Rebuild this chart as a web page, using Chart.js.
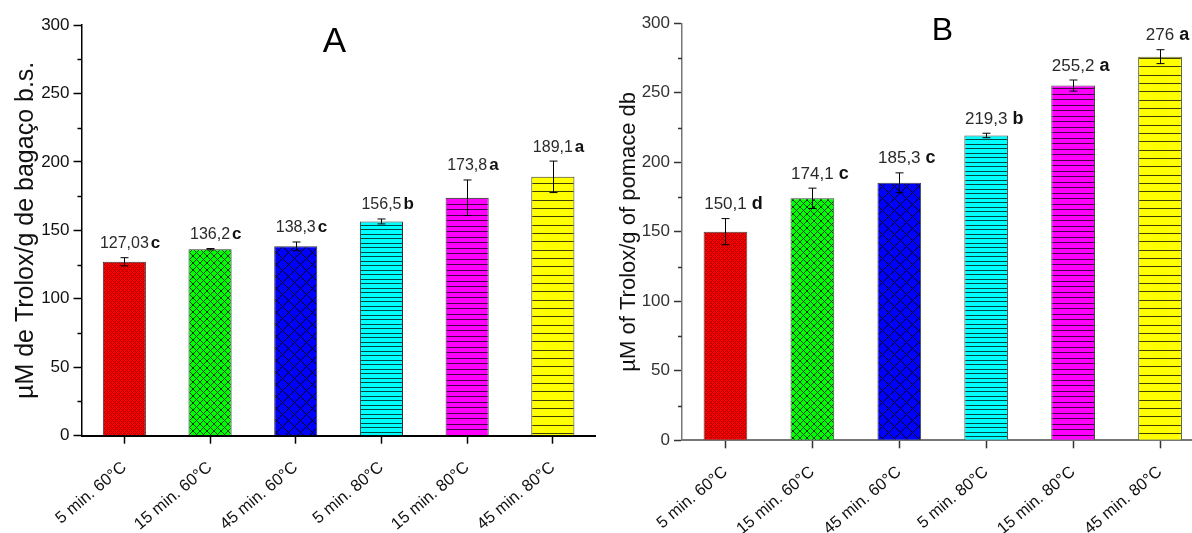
<!DOCTYPE html>
<html>
<head>
<meta charset="utf-8">
<script src="https://cdn.jsdelivr.net/npm/chart.js@4.4.1/dist/chart.umd.min.js"></script>
<style>
  html, body { margin: 0; padding: 0; background: #ffffff; overflow: hidden; width: 1192px; height: 533px; }
  #wrapA { position: absolute; left: 0; top: 0; width: 600px; height: 533px; }
  #wrapB { position: absolute; left: 600px; top: 0; width: 610px; height: 533px; }
</style>
</head>
<body>
<div id="wrapA"><canvas id="chartA" width="600" height="533"></canvas></div>
<div id="wrapB"><canvas id="chartB" width="610" height="533"></canvas></div>
<script>
// ---------- data ----------
const categories = ['5 min. 60°C', '15 min. 60°C', '45 min. 60°C', '5 min. 80°C', '15 min. 80°C', '45 min. 80°C'];

const valuesA  = [127.03, 136.2, 138.3, 156.5, 173.8, 189.1];
const errorsA  = [3.0, 0.5, 3.2, 1.8, 13.0, 11.5];
const lettersA = ['c', 'c', 'c', 'b', 'a', 'a'];

const valuesB  = [150.1, 174.1, 185.3, 219.3, 255.2, 276];
const errorsB  = [9.4, 7.3, 7.1, 1.6, 4.0, 5.0];
const lettersB = ['d', 'c', 'c', 'b', 'a', 'a'];

const yMin = 0;
const yMax = 300;
const yStep = 50;

const titleA = 'µM de Trolox/g de bagaço b.s.';
const titleB = 'µM of Trolox/g of pomace db';

// ---------- styling helpers ----------
const FONT = "'Liberation Sans', Arial, sans-serif";
Chart.defaults.font.family = FONT;
Chart.defaults.devicePixelRatio = 1;

function crossPattern(bg, period, line) {
  const c = document.createElement('canvas');
  c.width = period; c.height = period;
  const g = c.getContext('2d');
  g.fillStyle = bg; g.fillRect(0, 0, period, period);
  g.fillStyle = line;
  for (let y = 0; y < period; y++) {
    for (let x = 0; x < period; x++) {
      if ((x - y + period) % period === 0 || (x + y) % period === 0) g.fillRect(x, y, 1, 1);
    }
  }
  return g.createPattern(c, 'repeat');
}
function hLinePattern(bg, height, rows, line) {
  const c = document.createElement('canvas');
  c.width = 8; c.height = height;
  const g = c.getContext('2d');
  g.fillStyle = bg; g.fillRect(0, 0, 8, height);
  g.fillStyle = line;
  rows.forEach(r => g.fillRect(0, r, 8, 1));
  return g.createPattern(c, 'repeat');
}

function makeFills() {
  return [
    crossPattern('#ff0000', 4, '#a80000'),
    crossPattern('#00ff00', 7, '#0b3d0b'),
    crossPattern('#0000ff', 12, '#000014'),
    hLinePattern('#00ffff', 9, [0, 4], 'rgba(0,40,40,0.85)'),
    hLinePattern('#ff00ff', 11, [0, 6], 'rgba(40,0,40,0.85)'),
    hLinePattern('#ffff00', 25, [0, 8, 16], 'rgba(30,30,0,0.85)')
  ];
}

function fmt(v) { return String(v).replace('.', ','); }

// plugin: error bars, value labels, minor ticks, panel letter
const annotPlugin = {
  id: 'annot',
  afterDatasetsDraw(chart, args, o) {
    const ctx = chart.ctx;
    const ys = chart.scales.y;
    const meta = chart.getDatasetMeta(0);
    const vals = chart.data.datasets[0].data;
    ctx.save();
    ctx.strokeStyle = '#000';
    ctx.lineWidth = 1;
    meta.data.forEach((el, i) => {
      const v = vals[i], e = o.errors[i];
      const x = Math.round(el.x) + 0.5;
      const t = ys.getPixelForValue(v + e), b = ys.getPixelForValue(v - e);
      ctx.beginPath();
      ctx.moveTo(x, t); ctx.lineTo(x, b);
      ctx.moveTo(x - 4, t); ctx.lineTo(x + 4, t);
      ctx.moveTo(x - 4, b); ctx.lineTo(x + 4, b);
      ctx.stroke();
      const base = t - 9.5;
      const num = fmt(v);
      ctx.font = o.numFont;
      ctx.fillStyle = o.numColor;
      ctx.textBaseline = 'alphabetic';
      ctx.textAlign = 'left';
      const w = ctx.measureText(num).width;
      const x0 = el.x - w / 2;
      ctx.fillText(num, x0, base);
      ctx.font = o.letterFont;
      ctx.fillStyle = '#111';
      ctx.fillText(o.letters[i], x0 + w + o.gap, base);
    });
    ctx.restore();
  },
  afterDraw(chart, args, o) {
    const ctx = chart.ctx;
    const ys = chart.scales.y;
    const ax = chart.chartArea.left;
    ctx.save();
    ctx.strokeStyle = o.tickColor;
    ctx.lineWidth = 1.5;
    for (let v = yMin + yStep / 2; v < yMax; v += yStep) {
      const py = Math.round(ys.getPixelForValue(v)) + 0.5;
      ctx.beginPath(); ctx.moveTo(ax - 4, py); ctx.lineTo(ax, py); ctx.stroke();
    }
    ctx.font = o.panelFont;
    ctx.fillStyle = '#000';
    ctx.textAlign = 'center';
    ctx.textBaseline = 'middle';
    ctx.fillText(o.panel, o.panelX, o.panelY);
    ctx.restore();
  }
};

function buildChart(id, values, cfg) {
  const ctx = document.getElementById(id).getContext('2d');
  return new Chart(ctx, {
    type: 'bar',
    data: {
      labels: categories,
      datasets: [{
        data: values,
        backgroundColor: makeFills(),
        borderColor: cfg.barBorder,
        borderWidth: 1,
        borderSkipped: 'start',
        barPercentage: 0.503,
        categoryPercentage: 1
      }]
    },
    plugins: [annotPlugin],
    options: {
      responsive: false,
      animation: false,
      devicePixelRatio: 1,
      layout: { padding: { top: cfg.top, right: cfg.right, left: 0, bottom: 0 } },
      plugins: {
        legend: { display: false },
        tooltip: { enabled: false },
        annot: cfg.annot
      },
      scales: {
        x: {
          type: 'category',
          offset: true,
          grid: { display: true, drawOnChartArea: false, drawTicks: true, tickLength: 8, tickColor: cfg.tickColor, tickWidth: 1.5, offset: false },
          border: { display: true, color: cfg.axisColor, width: cfg.xAxisWidth },
          ticks: { autoSkip: false, maxRotation: 40, minRotation: 40, padding: cfg.xPad, color: '#111', font: { size: 16.5, family: FONT } },
          afterFit: s => { s.height = cfg.xHeight; }
        },
        y: {
          min: yMin, max: yMax,
          grid: { display: true, drawOnChartArea: false, drawTicks: true, tickLength: 8, tickColor: cfg.tickColor, tickWidth: 1.5 },
          border: { display: true, color: cfg.axisColor, width: 1.5 },
          ticks: { stepSize: yStep, padding: 4, color: cfg.yTickColor, font: { size: 17, family: FONT } },
          title: { display: true, text: cfg.title, color: '#111', font: { size: cfg.titleSize, family: FONT }, padding: { top: cfg.titlePad, bottom: 0 } },
          afterFit: s => { s.width = cfg.yWidth; }
        }
      }
    }
  });
}

buildChart('chartA', valuesA, {
  top: 25, right: 4.3, xHeight: 97.3, yWidth: 81.5, xPad: 14,
  axisColor: '#000', tickColor: '#000', xAxisWidth: 2, yTickColor: '#111', barBorder: '#333',
  title: titleA, titleSize: 25, titlePad: 11,
  annot: { errors: errorsA, letters: lettersA, numFont: "16px " + FONT, numColor: '#2a2a2a', letterFont: "bold 17px " + FONT, gap: 2,
           tickColor: '#000', panel: 'A', panelFont: "35px " + FONT, panelX: 334.5, panelY: 42.5 }
});

buildChart('chartB', valuesB, {
  top: 23.3, right: 6.5, xHeight: 92.7, yWidth: 82, xPad: 14,
  axisColor: '#777', tickColor: '#333', xAxisWidth: 2, yTickColor: '#333', barBorder: '#444',
  title: titleB, titleSize: 22, titlePad: 16,
  annot: { errors: errorsB, letters: lettersB, numFont: "17px " + FONT, numColor: '#2a2a2a', letterFont: "bold 18px " + FONT, gap: 5,
           tickColor: '#333', panel: 'B', panelFont: "32px " + FONT, panelX: 342.5, panelY: 31.5 }
});
</script>
</body>
</html>
